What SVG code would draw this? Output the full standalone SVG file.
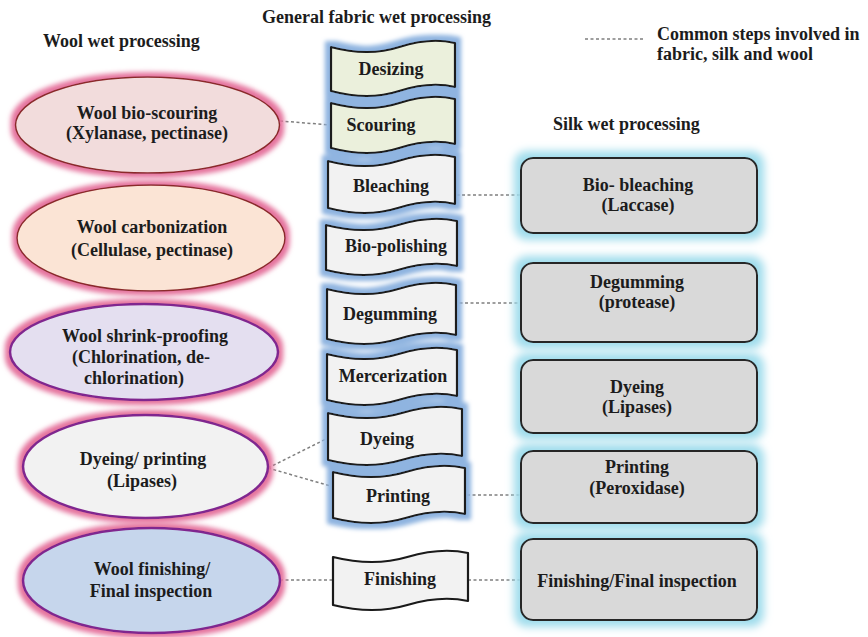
<svg xmlns="http://www.w3.org/2000/svg" width="868" height="637" viewBox="0 0 868 637">
  <defs>
    <!-- soft halo for the wool ellipses -->
    <filter id="pinkGlow" x="-20%" y="-30%" width="140%" height="160%">
      <feMorphology in="SourceAlpha" operator="dilate" radius="4" result="d"/>
      <feGaussianBlur in="d" stdDeviation="2.5" result="b"/>
      <feFlood flood-color="#e5739d"/>
      <feComposite in2="b" operator="in" result="g"/>
      <feMerge><feMergeNode in="g"/><feMergeNode in="SourceGraphic"/></feMerge>
    </filter>
    <!-- halo for the general fabric tapes -->
    <filter id="blueGlow" x="-20%" y="-30%" width="140%" height="160%">
      <feMorphology in="SourceAlpha" operator="dilate" radius="5" result="d"/>
      <feGaussianBlur in="d" stdDeviation="2" result="b"/>
      <feFlood flood-color="#8fb4e0"/>
      <feComposite in2="b" operator="in" result="g"/>
      <feMerge><feMergeNode in="g"/><feMergeNode in="SourceGraphic"/></feMerge>
    </filter>
    <!-- halo for the silk boxes -->
    <filter id="cyanGlow" x="-20%" y="-40%" width="140%" height="180%">
      <feMorphology in="SourceAlpha" operator="dilate" radius="6" result="d"/>
      <feGaussianBlur in="d" stdDeviation="4" result="b"/>
      <feFlood flood-color="#9fdcec"/>
      <feComposite in2="b" operator="in" result="g"/>
      <feMerge><feMergeNode in="g"/><feMergeNode in="SourceGraphic"/></feMerge>
    </filter>
  </defs>
  <style>
    .c { text-anchor: middle; }
    .ell-red { stroke: #8b2a2a; stroke-width: 1.5; filter: url(#pinkGlow); }
    .ell-pur { stroke: #80288f; stroke-width: 2.5; filter: url(#pinkGlow); }
    .tape { stroke: #1a1a1a; stroke-width: 2.2; stroke-linejoin: round; }
    .tape-green { fill: #ebf0dc; }
    .tape-grey { fill: #f2f2f2; }
    .box { fill: #d9d9d9; stroke: #262626; stroke-width: 2; filter: url(#cyanGlow); }
    .dot { stroke: #7f7f7f; stroke-width: 1.5; stroke-dasharray: 3 2.5; fill: none; }
  </style>

  <rect width="868" height="637" fill="#ffffff"/>

  <g font-family="'Liberation Serif', 'DejaVu Serif', serif" font-weight="bold" font-size="18" fill="#1c1c1c">

  <!-- column headings -->
  <text x="43" y="47">Wool wet processing</text>
  <text x="262" y="23">General fabric wet processing</text>
  <text x="553" y="130">Silk wet processing</text>

  <!-- legend -->
  <g id="legend">
    <line class="dot" x1="585" y1="39" x2="645" y2="39"/>
    <text x="657" y="40">Common steps involved in</text>
    <text x="657" y="60">fabric, silk and wool</text>
  </g>

  <!-- connectors -->
  <g id="connectors">
    <line class="dot" x1="280" y1="121" x2="331" y2="125"/>
    <line class="dot" x1="440" y1="195" x2="521" y2="195"/>
    <line class="dot" x1="443" y1="303" x2="521" y2="303"/>
    <line class="dot" x1="268" y1="468" x2="328" y2="438"/>
    <line class="dot" x1="268" y1="468" x2="334" y2="487"/>
    <line class="dot" x1="445" y1="495" x2="521" y2="495"/>
    <line class="dot" x1="280" y1="580" x2="333" y2="580"/>
    <line class="dot" x1="468" y1="580" x2="521" y2="580"/>
  </g>

  <!-- wool wet processing -->
  <g id="wool-bioscouring">
    <ellipse class="ell-red" cx="147.5" cy="125" rx="132" ry="48" fill="#f2dcdc"/>
    <text class="c" x="147" y="119">Wool bio-scouring</text>
    <text class="c" x="147" y="139">(Xylanase, pectinase)</text>
  </g>
  <g id="wool-carbonization">
    <ellipse class="ell-red" cx="151" cy="238" rx="134" ry="53" fill="#fbe4d5"/>
    <text class="c" x="152" y="233">Wool carbonization</text>
    <text class="c" x="152" y="256">(Cellulase, pectinase)</text>
  </g>
  <g id="wool-shrinkproofing">
    <ellipse class="ell-pur" cx="144" cy="352" rx="134" ry="48" fill="#e4dff0"/>
    <text class="c" x="145" y="342">Wool shrink-proofing</text>
    <text class="c" x="141" y="363">(Chlorination, de-</text>
    <text class="c" x="134" y="384">chlorination)</text>
  </g>
  <g id="wool-dyeing">
    <ellipse class="ell-pur" cx="145.5" cy="466.5" rx="122.5" ry="51.5" fill="#f2f2f2"/>
    <text class="c" x="143" y="465">Dyeing/ printing</text>
    <text class="c" x="142" y="487">(Lipases)</text>
  </g>
  <g id="wool-finishing">
    <ellipse class="ell-pur" cx="151.5" cy="580.5" rx="128.5" ry="52.5" fill="#c6d6ec"/>
    <text class="c" x="152" y="575">Wool finishing/</text>
    <text class="c" x="151" y="597">Final inspection</text>
  </g>

  <!-- general fabric wet processing -->
  <g id="fabric-column" filter="url(#blueGlow)">
    <path id="tape-desizing" class="tape tape-green" d="M331,47 Q368.2,57 399.2,47 T455,43 L455,87 Q430.2,81 399.2,91 Q368.2,101 331,91 Z"/>
    <path id="tape-scouring" class="tape tape-green" d="M331,103 Q368.2,113 399.2,103 T455,99 L455,144 Q430.2,138 399.2,148 Q368.2,158 331,148 Z"/>
    <path id="tape-bleaching" class="tape tape-grey" d="M328,161 Q366.1,171 397.9,161 T455,157 L455,204 Q429.6,198 397.9,208 Q366.1,218 328,208 Z"/>
    <path id="tape-biopolishing" class="tape tape-grey" d="M326,225 Q365.3,235 398,225 T457,221 L457,266 Q430.8,260 398,270 Q365.3,280 326,270 Z"/>
    <path id="tape-degumming" class="tape tape-grey" d="M327,289 Q365.7,299 398,289 T456,285 L456,335 Q430.2,329 398,339 Q365.7,349 327,339 Z"/>
    <path id="tape-mercerization" class="tape tape-grey" d="M327,354 Q366,364 398.5,354 T457,350 L457,396 Q431,390 398.5,400 Q366,410 327,400 Z"/>
    <path id="tape-dyeing" class="tape tape-grey" d="M328,413 Q368.2,423 401.7,413 T462,409 L462,456 Q435.2,450 401.7,460 Q368.2,470 328,460 Z"/>
    <path id="tape-printing" class="tape tape-grey" d="M333,472 Q372.6,482 405.6,472 T465,468 L465,514 Q438.6,508 405.6,518 Q372.6,528 333,518 Z"/>
  </g>
  <g id="fabric-desizing"><text class="c" x="391" y="75">Desizing</text></g>
  <g id="fabric-scouring"><text class="c" x="381" y="131">Scouring</text></g>
  <g id="fabric-bleaching"><text class="c" x="391" y="192">Bleaching</text></g>
  <g id="fabric-biopolishing"><text class="c" x="396" y="252">Bio-polishing</text></g>
  <g id="fabric-degumming"><text class="c" x="390" y="320">Degumming</text></g>
  <g id="fabric-mercerization"><text class="c" x="393" y="382">Mercerization</text></g>
  <g id="fabric-dyeing"><text class="c" x="387" y="445">Dyeing</text></g>
  <g id="fabric-printing"><text class="c" x="398" y="502">Printing</text></g>
  <g id="fabric-finishing">
    <path class="tape tape-grey" d="M333,557 Q373.5,567 407.3,557 T468,553 L468,601 Q441,595 407.3,605 Q373.5,615 333,605 Z"/>
    <text class="c" x="400" y="585">Finishing</text>
  </g>

  <!-- silk wet processing -->
  <g id="silk-biobleaching">
    <rect class="box" x="521" y="158" width="236" height="75" rx="12"/>
    <text class="c" x="638" y="191">Bio- bleaching</text>
    <text class="c" x="638" y="211">(Laccase)</text>
  </g>
  <g id="silk-degumming">
    <rect class="box" x="521" y="263" width="236" height="79" rx="12"/>
    <text class="c" x="637" y="288">Degumming</text>
    <text class="c" x="637" y="308">(protease)</text>
  </g>
  <g id="silk-dyeing">
    <rect class="box" x="521" y="360" width="236" height="73" rx="12"/>
    <text class="c" x="637" y="393">Dyeing</text>
    <text class="c" x="637" y="413">(Lipases)</text>
  </g>
  <g id="silk-printing">
    <rect class="box" x="521" y="451" width="236" height="72" rx="12"/>
    <text class="c" x="637" y="473">Printing</text>
    <text class="c" x="637" y="494">(Peroxidase)</text>
  </g>
  <g id="silk-finishing">
    <rect class="box" x="521" y="539" width="236" height="81" rx="12"/>
    <text class="c" x="637" y="587">Finishing/Final inspection</text>
  </g>

  </g>
</svg>
